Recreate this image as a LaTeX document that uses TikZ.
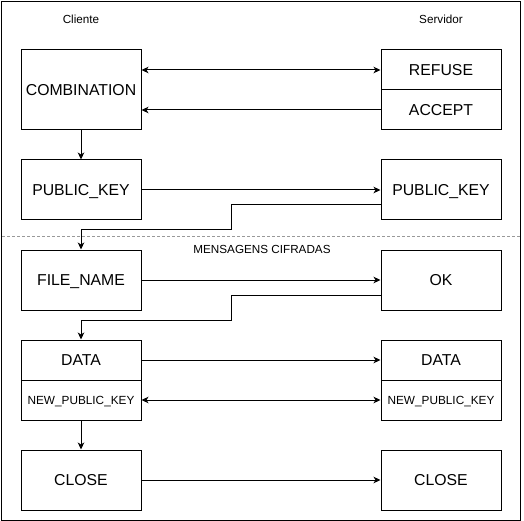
\documentclass[tikz,border=0pt]{standalone}
\usepackage{fontspec}
\setmainfont{Liberation Sans}
\usetikzlibrary{arrows.meta}
\begin{document}
\begin{tikzpicture}[x=1pt,y=-1pt,line width=1pt,
  box/.style={draw,rectangle,inner sep=0pt,minimum width=120pt,text height=11.3pt,text depth=0pt,font=\fontsize{15.8}{18}\selectfont},
  tall/.style={box,minimum height=80pt},
  mid/.style={box,minimum height=60pt},
  half/.style={box,minimum height=40pt},
  smalltxt/.style={font=\fontsize{11.8}{14}\selectfont,text height=8.45pt},
  lbl/.style={inner sep=0pt,text height=8.4pt,text depth=0pt,font=\fontsize{11.7}{14}\selectfont},
  arr/.style={-{Stealth[length=7pt,width=6.5pt,inset=2pt]}},
  darr/.style={{Stealth[length=7pt,width=6.5pt,inset=2pt]}-{Stealth[length=7pt,width=6.5pt,inset=2pt]}},
  sep/.style={draw=black!40,dash pattern=on 3pt off 2pt,line width=1pt}]
\useasboundingbox (0,0) rectangle (524,521);
\draw (1.5,1.5) rectangle (520.5,520);
\draw[sep] (2,236) -- (520,236);

\node[lbl] (cli) at (81,19) {Cliente};
\node[lbl] (srv) at (441,19) {Servidor};
\node[lbl] (msg) at (262,249) {MENSAGENS CIFRADAS};

\node[tall] (comb) at (81,90) {COMBINATION};
\node[half] (ref) at (441,70) {REFUSE};
\node[half] (acc) at (441,110) {ACCEPT};
\node[mid] (pk1) at (81,190) {PUBLIC\_KEY};
\node[mid] (pk2) at (441,190) {PUBLIC\_KEY};
\node[mid] (fn) at (81,280) {FILE\_NAME};
\node[mid] (ok) at (441,280) {OK};
\node[half] (d1) at (81,360) {DATA};
\node[half,smalltxt] (n1) at (81,400) {NEW\_PUBLIC\_KEY};
\node[half] (d2) at (441,360) {DATA};
\node[half,smalltxt] (n2) at (441,400) {NEW\_PUBLIC\_KEY};
\node[mid] (c1) at (81,480) {CLOSE};
\node[mid] (c2) at (441,480) {CLOSE};

\coordinate (m1) at (231,230);
\coordinate (m2) at (231,320);

\draw[darr] (comb.east |- ref.west) -- (ref.west);
\draw[arr] (acc.west) -- (acc.west -| comb.east);
\draw[arr] (comb.south) -- (pk1.north);
\draw[arr] (pk1.east) -- (pk2.west);
\draw[arr] ([yshift=-15pt]pk2.west) -| (m1) -| (fn.north);
\draw[arr] (fn.east) -- (ok.west);
\draw[arr] ([yshift=-15pt]ok.west) -| (m2) -| (d1.north);
\draw[arr] (d1.east) -- (d2.west);
\draw[darr] (n1.east) -- (n2.west);
\draw[arr] (n1.south) -- (c1.north);
\draw[arr] (c1.east) -- (c2.west);
\end{tikzpicture}
\end{document}
